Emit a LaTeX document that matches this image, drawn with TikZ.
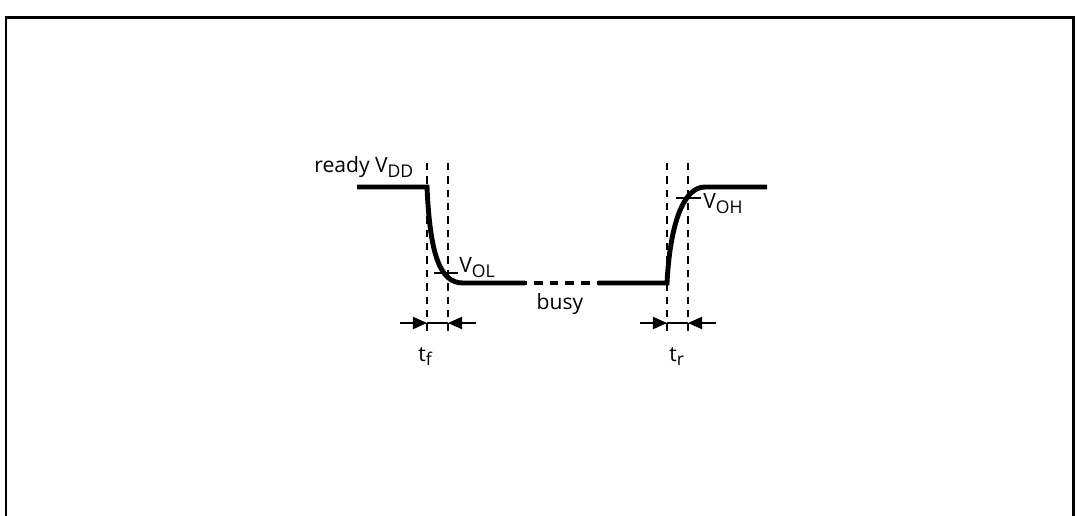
\documentclass[tikz,border=0pt]{standalone}
\usepackage{fontspec}
\setmainfont{Open Sans}
\usetikzlibrary{arrows.meta}
\newcommand{\lowidx}[1]{\raisebox{-0.4ex}{\fontsize{10}{11}\selectfont #1}}
\begin{document}
\begin{tikzpicture}[x=0.02cm, y=-0.02cm,
    % line and label styles
    frameline/.style={line width=1.7pt},
    signal/.style={line width=2.8pt},
    gap/.style={line width=2.8pt, dash pattern=on 5pt off 4pt, dash phase=4pt},
    guide/.style={line width=0.8pt, dash pattern=on 4.2pt off 3.4pt},
    level/.style={line width=0.6pt},
    dimarrow/.style={line width=0.6pt, -{Triangle[length=8pt, width=7pt]}},
    lbl/.style={font=\fontsize{12}{14}\selectfont, inner sep=0pt}
]
\useasboundingbox (0,0) rectangle (1077,516);

% 1. Frame (open at the bottom)
\draw[frameline] (6,520) -- (6,18) -- (1073,18) -- (1073,520);

% 2. Waveform points
\coordinate (hiL)   at (357,187);
\coordinate (fallA) at (427,187);
\coordinate (fallB) at (463,283);
\coordinate (gapA)  at (525,283);
\coordinate (gapB)  at (598,283);
\coordinate (riseA) at (667,283);
\coordinate (riseB) at (705,187);
\coordinate (hiR)   at (767,187);

% 3. Waveform
\draw[signal] (hiL) -- (fallA) .. controls (430,255) and (440,283) .. (fallB) -- (gapA);
\draw[gap] (gapA) -- (gapB);
\draw[signal] (gapB) -- (riseA) .. controls (670,225) and (683,187) .. (riseB) -- (hiR);

% 4. Dashed guides
\coordinate (tfA) at (427,323);
\coordinate (tfB) at (448,323);
\coordinate (trA) at (667,323);
\coordinate (trB) at (688,323);
\draw[guide] (427,163) -- (427,333);
\draw[guide] (448,163) -- (448,333);
\draw[guide] (667,163) -- (667,333);
\draw[guide] (688,163) -- (688,333);

% 5. Threshold ticks
\coordinate (olA) at (434,273);
\coordinate (olB) at (458,273);
\coordinate (ohA) at (676,198);
\coordinate (ohB) at (701,198);
\draw[level] (olA) -- (olB);
\draw[level] (ohA) -- (ohB);

% 6. Labels
\node[lbl, anchor=base west] (ready) at (314,173) {ready V\lowidx{DD}};
\node[lbl, anchor=base west] (vol)   at (459,273) {V\lowidx{OL}};
\node[lbl, anchor=base west] (voh)   at (703,209) {V\lowidx{OH}};
\node[lbl, anchor=base] (busy) at (560,310) {busy};
\node[lbl, anchor=base west] (tf) at (418,361) {t\lowidx{f}};
\node[lbl, anchor=base west] (tr) at (669,361) {t\lowidx{r}};

% 7. Timing arrows
\coordinate (tfL) at (400,323);
\coordinate (tfR) at (476,323);
\coordinate (trL) at (640,323);
\coordinate (trR) at (716,323);
\draw[dimarrow] (tfL) -- (tfA);
\draw[dimarrow] (tfR) -- (tfB);
\draw[level] (tfA) -- (tfB);
\draw[dimarrow] (trL) -- (trA);
\draw[dimarrow] (trR) -- (trB);
\draw[level] (trA) -- (trB);

\end{tikzpicture}
\end{document}
